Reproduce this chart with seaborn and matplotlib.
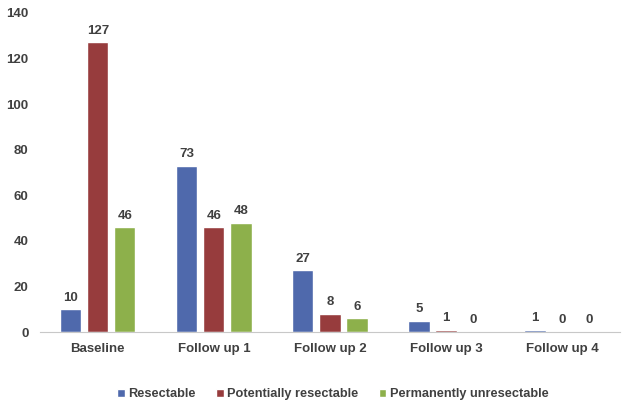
import pandas as pd
import numpy as np
import matplotlib.pyplot as plt
import seaborn as sns

categories = ['Baseline', 'Follow up 1', 'Follow up 2', 'Follow up 3', 'Follow up 4']
resectable = [10, 73, 27, 5, 1]
potentially = [127, 46, 8, 1, 0]
permanently = [46, 48, 6, 0, 0]
series = ['Resectable', 'Potentially resectable', 'Permanently unresectable']
colors = ['#4F69AC', '#973C3D', '#8DB04B']

df = pd.DataFrame({'stage': categories * 3,
                   'value': resectable + potentially + permanently,
                   'group': np.repeat(series, len(categories))})

sns.set_style('white')
plt.rcParams['font.family'] = ['Liberation Sans', 'DejaVu Sans']
txt = '#404040'

fig = plt.figure(figsize=(6.22, 4.01), dpi=100)
ax = fig.add_axes([0.064, 0.172, 0.933, 0.796])
sns.barplot(data=df, x='stage', y='value', hue='group', palette=colors,
            width=0.7, gap=0.22, ax=ax, saturation=1)

for c in ax.containers:
    ax.bar_label(c, padding=4, fontsize=9.5, fontweight='bold', color=txt)

ax.set_ylim(0, 140)
ax.set_yticks(range(0, 141, 20))
ax.set_xlabel('')
ax.set_ylabel('')
for s in ['top', 'right', 'left']:
    ax.spines[s].set_visible(False)
ax.spines['bottom'].set_color('#c8c8c8')
ax.tick_params(axis='both', length=0, labelsize=9.5, colors=txt, pad=8)
for t in ax.get_xticklabels() + ax.get_yticklabels():
    t.set_fontweight('bold')

ax.legend(loc='center', bbox_to_anchor=(0.505, -0.195), ncol=3, frameon=False,
          handlelength=0.6, handleheight=0.6, handletextpad=0.25, columnspacing=1.6,
          prop={'size': 9.2, 'weight': 'bold'}, labelcolor=txt)

fig.savefig('out.png', dpi=100)
